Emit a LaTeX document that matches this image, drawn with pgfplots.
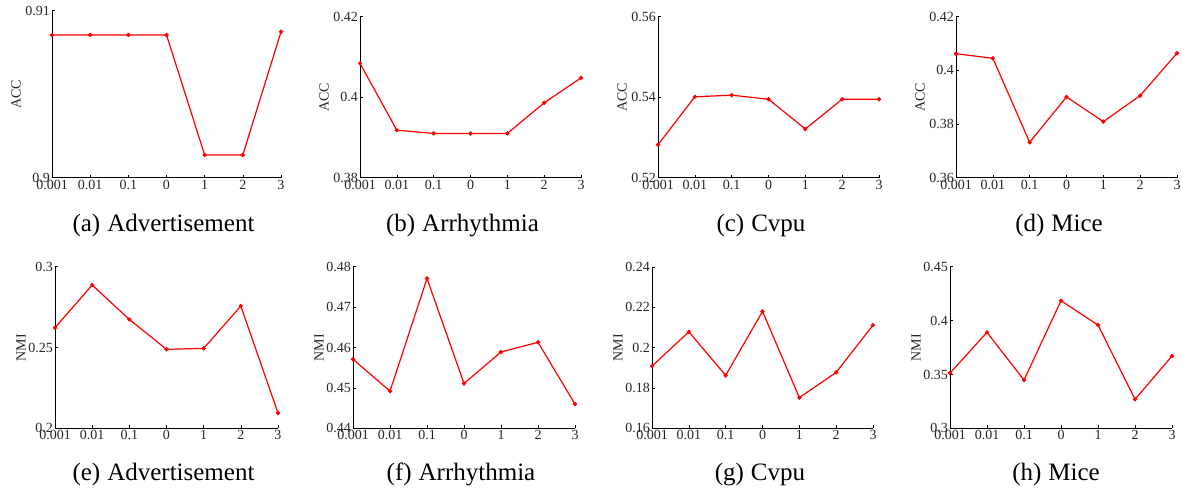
\documentclass[border=0pt]{standalone}
\usepackage{fontspec}
\setmainfont{Liberation Serif}
\usepackage{pgfplots}
\pgfplotsset{compat=1.18}

\pgfplotsset{
  panel/.style={
    scale only axis,
    anchor=south west,
    axis x line*=bottom,
    axis y line*=left,
    xmin=0, xmax=6,
    xtick={0,...,6},
    xticklabels={0.001,0.01,0.1,0,1,2,3},
    tick align=inside,
    major tick length=3bp,
    tick style={color=black, line width=0.6bp},
    axis line style={line width=0.8bp, color=black},
    scaled ticks=false,
    clip=false,
    tick label style={font=\fontsize{14bp}{16bp}\selectfont, color=black!85},
    /pgf/number format/assume math mode=true,
    y tick label style={/pgf/number format/fixed, /pgf/number format/precision=3, inner sep=2bp},
    x tick label style={inner sep=2bp},
    label style={font=\fontsize{14bp}{16bp}\selectfont, color=black!85},
  },
  ser/.style={color=red, line width=1.2bp, mark=*, mark size=1.5bp, mark options={fill=red, draw=red}},
  toprow/.style={ylabel style={at={([xshift=-36bp]rel axis cs:0,0.5)}, anchor=center}},
  botrow/.style={ylabel style={at={([xshift=-34bp]rel axis cs:0,0.5)}, anchor=center}},
}

\begin{document}
\begin{tikzpicture}
\path[use as bounding box] (0,0) rectangle (1182bp,489bp);

% (a)
\begin{axis}[panel, toprow, at={(52bp,311.3bp)}, width=229bp, height=167bp,
  ymin=0.9, ymax=0.91, ytick={0.9,0.91}, ylabel={ACC}]
\addplot[ser] coordinates {(0,0.90855) (1,0.90855) (2,0.90855) (3,0.90855) (4,0.90136) (5,0.90136) (6,0.90874)};
\end{axis}

% (b)
\begin{axis}[panel, toprow, at={(360bp,311.3bp)}, width=221bp, height=161bp,
  ymin=0.38, ymax=0.42, ytick={0.38,0.4,0.42}, ylabel={ACC}]
\addplot[ser] coordinates {(0,0.4084) (1,0.3918) (2,0.3910) (3,0.3910) (4,0.3910) (5,0.3986) (6,0.4048)};
\end{axis}

% (c)
\begin{axis}[panel, toprow, at={(658bp,311.3bp)}, width=221bp, height=161bp,
  ymin=0.52, ymax=0.56, ytick={0.52,0.54,0.56}, ylabel={ACC}]
\addplot[ser] coordinates {(0,0.5282) (1,0.5401) (2,0.5405) (3,0.5395) (4,0.5321) (5,0.5395) (6,0.5395)};
\end{axis}

% (d)
\begin{axis}[panel, toprow, at={(956bp,311.3bp)}, width=221bp, height=161bp,
  ymin=0.36, ymax=0.42, ytick={0.36,0.38,0.4,0.42}, ylabel={ACC}]
\addplot[ser] coordinates {(0,0.4062) (1,0.4045) (2,0.3732) (3,0.3901) (4,0.3809) (5,0.3906) (6,0.4064)};
\end{axis}

% (e)
\begin{axis}[panel, botrow, at={(55bp,60.7bp)}, width=223bp, height=161.5bp,
  ymin=0.2, ymax=0.3, ytick={0.2,0.25,0.3}, ylabel={NMI}]
\addplot[ser] coordinates {(0,0.2623) (1,0.2887) (2,0.2674) (3,0.2489) (4,0.2495) (5,0.2757) (6,0.2095)};
\end{axis}

% (f)
\begin{axis}[panel, botrow, at={(353bp,60.7bp)}, width=222bp, height=161.5bp,
  ymin=0.44, ymax=0.48, ytick={0.44,0.45,0.46,0.47,0.48}, ylabel={NMI}]
\addplot[ser] coordinates {(0,0.4571) (1,0.4492) (2,0.4771) (3,0.4511) (4,0.4589) (5,0.4613) (6,0.4460)};
\end{axis}

% (g)
\begin{axis}[panel, botrow, at={(652bp,60.7bp)}, width=221bp, height=161.5bp,
  ymin=0.16, ymax=0.24, ytick={0.16,0.18,0.2,0.22,0.24}, ylabel={NMI}]
\addplot[ser] coordinates {(0,0.1908) (1,0.2078) (2,0.1862) (3,0.2179) (4,0.1752) (5,0.1877) (6,0.2111)};
\end{axis}

% (h)
\begin{axis}[panel, botrow, at={(950bp,60.7bp)}, width=222bp, height=161.5bp,
  ymin=0.3, ymax=0.45, ytick={0.3,0.35,0.4,0.45}, ylabel={NMI}]
\addplot[ser] coordinates {(0,0.3513) (1,0.3891) (2,0.3448) (3,0.4185) (4,0.3959) (5,0.3269) (6,0.3671)};
\end{axis}

% sub-captions
\begin{scope}[every node/.style={anchor=base, font=\fontsize{25bp}{28bp}\selectfont, inner sep=0pt}]
\node at (163.5bp,257bp) {(a)\hspace{7bp}Advertisement};
\node at (462.5bp,257bp) {(b)\hspace{7bp}Arrhythmia};
\node at (761bp,257bp) {(c)\hspace{7bp}Cvpu};
\node at (1059bp,257bp) {(d)\hspace{7bp}Mice};
\node at (163.5bp,9bp) {(e)\hspace{7bp}Advertisement};
\node at (461bp,9bp) {(f)\hspace{7bp}Arrhythmia};
\node at (760bp,9bp) {(g)\hspace{7bp}Cvpu};
\node at (1056bp,9bp) {(h)\hspace{7bp}Mice};
\end{scope}
\end{tikzpicture}
\end{document}
